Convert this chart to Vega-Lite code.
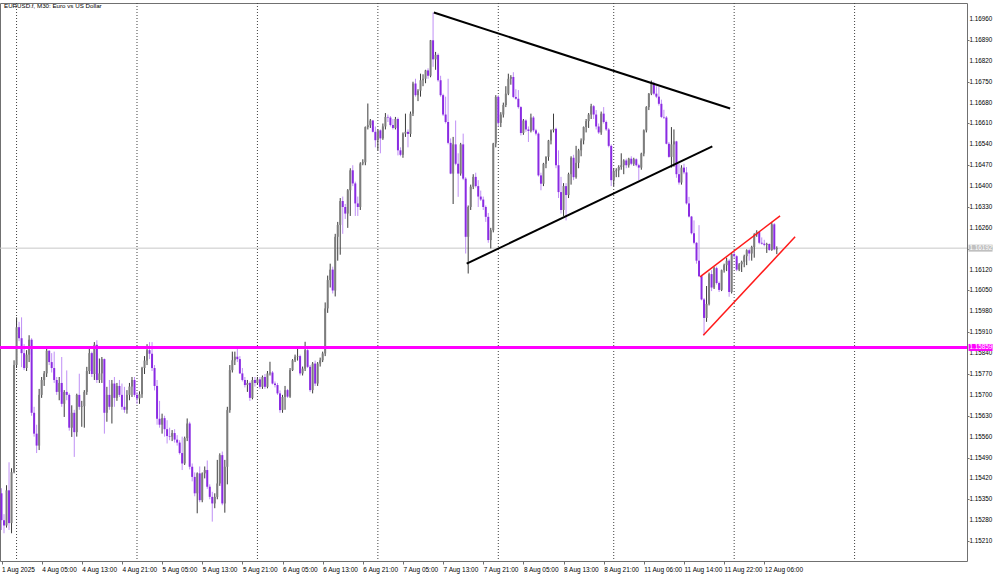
{
  "$schema": "https://vega.github.io/schema/vega-lite/v6.json",
  "width": 967,
  "height": 558,
  "autosize": {"type": "none"},
  "padding": {"left": 0, "top": 3, "right": 33, "bottom": 13},
  "background": "white",
  "config": {
    "view": {"stroke": "#707070", "strokeWidth": 1},
    "font": "Liberation Sans",
    "axis": {"labelOverlap": false},
    "scale": {"continuousPadding": 0}
  },
  "title": {
    "text": "EURUSD.f, M30:  Euro vs US Dollar",
    "anchor": "start",
    "orient": "top",
    "frame": "group",
    "offset": -13,
    "dx": 4,
    "baseline": "bottom",
    "fontSize": 6.2,
    "fontWeight": "normal",
    "font": "Liberation Sans",
    "color": "black"
  },
  "datasets": {
    "grid": [{"i": 6}, {"i": 54}, {"i": 102}, {"i": 150}, {"i": 198}, {"i": 244}, {"i": 292}, {"i": 340}],
    "yticks": [
      {"p": 1.1521}, {"p": 1.1528}, {"p": 1.1535}, {"p": 1.1542}, {"p": 1.1549}, {"p": 1.1556}, {"p": 1.1563},
      {"p": 1.157}, {"p": 1.1577}, {"p": 1.1584}, {"p": 1.1591}, {"p": 1.1598}, {"p": 1.1605}, {"p": 1.1612},
      {"p": 1.1619}, {"p": 1.1626}, {"p": 1.1633}, {"p": 1.164}, {"p": 1.1647}, {"p": 1.1654}, {"p": 1.1661},
      {"p": 1.1668}, {"p": 1.1675}, {"p": 1.1682}, {"p": 1.1689}, {"p": 1.1696}
    ],
    "levels": [
      {"kind": "cur", "p": 1.16192, "label": "1.16192"},
      {"kind": "lvl", "p": 1.15859, "label": "1.15859"}
    ],
    "tri": [
      {"id": "top", "i": 172.3, "p": 1.16982},
      {"id": "top", "i": 290.4, "p": 1.1666},
      {"id": "bot", "i": 185.4, "p": 1.1614},
      {"id": "bot", "i": 283.3, "p": 1.16533}
    ],
    "chan": [
      {"id": "top", "i": 278.4, "p": 1.16096},
      {"id": "top", "i": 310.3, "p": 1.163},
      {"id": "bot", "i": 279.7, "p": 1.159},
      {"id": "bot", "i": 316.3, "p": 1.1623}
    ],
    "bars": [
      {"i":0,"o":1.15370,"h":1.15387,"l":1.15247,"c":1.15280},
      {"i":1,"o":1.15280,"h":1.15300,"l":1.15236,"c":1.15262},
      {"i":2,"o":1.15262,"h":1.15397,"l":1.15255,"c":1.15380},
      {"i":3,"o":1.15380,"h":1.15474,"l":1.15247,"c":1.15270},
      {"i":4,"o":1.15270,"h":1.15454,"l":1.15236,"c":1.15441},
      {"i":5,"o":1.15441,"h":1.15816,"l":1.15437,"c":1.15800},
      {"i":6,"o":1.15800,"h":1.15960,"l":1.15790,"c":1.15927},
      {"i":7,"o":1.15927,"h":1.15945,"l":1.15880,"c":1.15890},
      {"i":8,"o":1.15890,"h":1.15960,"l":1.15793,"c":1.15840},
      {"i":9,"o":1.15840,"h":1.15870,"l":1.15783,"c":1.15790},
      {"i":10,"o":1.15790,"h":1.15850,"l":1.15780,"c":1.15835},
      {"i":11,"o":1.15835,"h":1.15900,"l":1.15810,"c":1.15885},
      {"i":12,"o":1.15885,"h":1.15890,"l":1.15630,"c":1.15640},
      {"i":13,"o":1.15640,"h":1.15660,"l":1.15560,"c":1.15570},
      {"i":14,"o":1.15570,"h":1.15600,"l":1.15505,"c":1.15530},
      {"i":15,"o":1.15530,"h":1.15720,"l":1.15515,"c":1.15700},
      {"i":16,"o":1.15700,"h":1.15760,"l":1.15690,"c":1.15750},
      {"i":17,"o":1.15750,"h":1.15780,"l":1.15730,"c":1.15772},
      {"i":18,"o":1.15772,"h":1.15855,"l":1.15760,"c":1.15848},
      {"i":19,"o":1.15848,"h":1.15850,"l":1.15800,"c":1.15810},
      {"i":20,"o":1.15810,"h":1.15840,"l":1.15775,"c":1.15790},
      {"i":21,"o":1.15790,"h":1.15845,"l":1.15740,"c":1.15750},
      {"i":22,"o":1.15750,"h":1.15760,"l":1.15700,"c":1.15710},
      {"i":23,"o":1.15710,"h":1.15760,"l":1.15682,"c":1.15740},
      {"i":24,"o":1.15740,"h":1.15827,"l":1.15660,"c":1.15670},
      {"i":25,"o":1.15670,"h":1.15716,"l":1.15626,"c":1.15710},
      {"i":26,"o":1.15710,"h":1.15782,"l":1.15682,"c":1.15700},
      {"i":27,"o":1.15700,"h":1.15705,"l":1.15580,"c":1.15590},
      {"i":28,"o":1.15590,"h":1.15665,"l":1.15559,"c":1.15640},
      {"i":29,"o":1.15640,"h":1.15650,"l":1.15492,"c":1.15575},
      {"i":30,"o":1.15575,"h":1.15704,"l":1.15560,"c":1.15700},
      {"i":31,"o":1.15700,"h":1.15771,"l":1.15650,"c":1.15660},
      {"i":32,"o":1.15660,"h":1.15680,"l":1.15593,"c":1.15662},
      {"i":33,"o":1.15662,"h":1.15716,"l":1.15590,"c":1.15710},
      {"i":34,"o":1.15710,"h":1.15794,"l":1.15700,"c":1.15780},
      {"i":35,"o":1.15780,"h":1.15855,"l":1.15770,"c":1.15840},
      {"i":36,"o":1.15840,"h":1.15845,"l":1.15760,"c":1.15770},
      {"i":37,"o":1.15770,"h":1.15877,"l":1.15750,"c":1.15868},
      {"i":38,"o":1.15868,"h":1.15883,"l":1.15740,"c":1.15750},
      {"i":39,"o":1.15750,"h":1.15822,"l":1.15740,"c":1.15772},
      {"i":40,"o":1.15772,"h":1.15827,"l":1.15740,"c":1.15820},
      {"i":41,"o":1.15820,"h":1.15822,"l":1.15570,"c":1.15640},
      {"i":42,"o":1.15640,"h":1.15727,"l":1.15610,"c":1.15700},
      {"i":43,"o":1.15700,"h":1.15750,"l":1.15650,"c":1.15660},
      {"i":44,"o":1.15660,"h":1.15750,"l":1.15604,"c":1.15738},
      {"i":45,"o":1.15738,"h":1.15760,"l":1.15660,"c":1.15690},
      {"i":46,"o":1.15690,"h":1.15740,"l":1.15680,"c":1.15730},
      {"i":47,"o":1.15730,"h":1.15750,"l":1.15693,"c":1.15700},
      {"i":48,"o":1.15700,"h":1.15738,"l":1.15650,"c":1.15660},
      {"i":49,"o":1.15660,"h":1.15727,"l":1.15640,"c":1.15650},
      {"i":50,"o":1.15650,"h":1.15716,"l":1.15637,"c":1.15700},
      {"i":51,"o":1.15700,"h":1.15740,"l":1.15682,"c":1.15728},
      {"i":52,"o":1.15728,"h":1.15760,"l":1.15693,"c":1.15750},
      {"i":53,"o":1.15750,"h":1.15760,"l":1.15693,"c":1.15700},
      {"i":54,"o":1.15700,"h":1.15710,"l":1.15670,"c":1.15688},
      {"i":55,"o":1.15688,"h":1.15712,"l":1.15670,"c":1.15702},
      {"i":56,"o":1.15702,"h":1.15794,"l":1.15690,"c":1.15790},
      {"i":57,"o":1.15790,"h":1.15830,"l":1.15770,"c":1.15815},
      {"i":58,"o":1.15815,"h":1.15870,"l":1.15800,"c":1.15850},
      {"i":59,"o":1.15850,"h":1.15877,"l":1.15820,"c":1.15838},
      {"i":60,"o":1.15838,"h":1.15877,"l":1.15780,"c":1.15790},
      {"i":61,"o":1.15790,"h":1.15800,"l":1.15715,"c":1.15730},
      {"i":62,"o":1.15730,"h":1.15750,"l":1.15600,"c":1.15620},
      {"i":63,"o":1.15620,"h":1.15680,"l":1.15590,"c":1.15600},
      {"i":64,"o":1.15600,"h":1.15637,"l":1.15570,"c":1.15622},
      {"i":65,"o":1.15622,"h":1.15630,"l":1.15560,"c":1.15585},
      {"i":66,"o":1.15585,"h":1.15615,"l":1.15537,"c":1.15562},
      {"i":67,"o":1.15562,"h":1.15590,"l":1.15548,"c":1.15560},
      {"i":68,"o":1.15560,"h":1.15582,"l":1.15545,"c":1.15572},
      {"i":69,"o":1.15572,"h":1.15585,"l":1.15540,"c":1.15550},
      {"i":70,"o":1.15550,"h":1.15565,"l":1.15530,"c":1.15540},
      {"i":71,"o":1.15540,"h":1.15548,"l":1.15500,"c":1.15505},
      {"i":72,"o":1.15505,"h":1.15560,"l":1.15448,"c":1.15470},
      {"i":73,"o":1.15470,"h":1.15560,"l":1.15465,"c":1.15555},
      {"i":74,"o":1.15555,"h":1.15621,"l":1.15545,"c":1.15604},
      {"i":75,"o":1.15604,"h":1.15610,"l":1.15450,"c":1.15459},
      {"i":76,"o":1.15459,"h":1.15470,"l":1.15410,"c":1.15425},
      {"i":77,"o":1.15425,"h":1.15440,"l":1.15360,"c":1.15370},
      {"i":78,"o":1.15370,"h":1.15440,"l":1.15303,"c":1.15437},
      {"i":79,"o":1.15437,"h":1.15460,"l":1.15340,"c":1.15347},
      {"i":80,"o":1.15347,"h":1.15440,"l":1.15340,"c":1.15437},
      {"i":81,"o":1.15437,"h":1.15460,"l":1.15420,"c":1.15448},
      {"i":82,"o":1.15448,"h":1.15480,"l":1.15385,"c":1.15392},
      {"i":83,"o":1.15392,"h":1.15400,"l":1.15350,"c":1.15358},
      {"i":84,"o":1.15358,"h":1.15375,"l":1.15275,"c":1.15336},
      {"i":85,"o":1.15336,"h":1.15370,"l":1.15320,"c":1.15358},
      {"i":86,"o":1.15358,"h":1.15482,"l":1.15350,"c":1.15403},
      {"i":87,"o":1.15403,"h":1.15504,"l":1.15395,"c":1.15498},
      {"i":88,"o":1.15498,"h":1.15510,"l":1.15330,"c":1.15336},
      {"i":89,"o":1.15336,"h":1.15482,"l":1.15305,"c":1.15459},
      {"i":90,"o":1.15459,"h":1.15660,"l":1.15400,"c":1.15649},
      {"i":91,"o":1.15649,"h":1.15800,"l":1.15640,"c":1.15783},
      {"i":92,"o":1.15783,"h":1.15845,"l":1.15775,"c":1.15816},
      {"i":93,"o":1.15816,"h":1.15845,"l":1.15800,"c":1.15828},
      {"i":94,"o":1.15828,"h":1.15856,"l":1.15810,"c":1.15820},
      {"i":95,"o":1.15820,"h":1.15830,"l":1.15770,"c":1.15772},
      {"i":96,"o":1.15772,"h":1.15790,"l":1.15745,"c":1.15750},
      {"i":97,"o":1.15750,"h":1.15760,"l":1.15725,"c":1.15733},
      {"i":98,"o":1.15733,"h":1.15750,"l":1.15710,"c":1.15740},
      {"i":99,"o":1.15740,"h":1.15745,"l":1.15680,"c":1.15690},
      {"i":100,"o":1.15690,"h":1.15760,"l":1.15685,"c":1.15750},
      {"i":101,"o":1.15750,"h":1.15760,"l":1.15728,"c":1.15740},
      {"i":102,"o":1.15740,"h":1.15760,"l":1.15735,"c":1.15752},
      {"i":103,"o":1.15752,"h":1.15760,"l":1.15720,"c":1.15727},
      {"i":104,"o":1.15727,"h":1.15765,"l":1.15720,"c":1.15760},
      {"i":105,"o":1.15760,"h":1.15770,"l":1.15720,"c":1.15727},
      {"i":106,"o":1.15727,"h":1.15780,"l":1.15722,"c":1.15772},
      {"i":107,"o":1.15772,"h":1.15811,"l":1.15765,"c":1.15775},
      {"i":108,"o":1.15775,"h":1.15780,"l":1.15735,"c":1.15738},
      {"i":109,"o":1.15738,"h":1.15745,"l":1.15725,"c":1.15733},
      {"i":110,"o":1.15733,"h":1.15740,"l":1.15700,"c":1.15705},
      {"i":111,"o":1.15705,"h":1.15715,"l":1.15640,"c":1.15649},
      {"i":112,"o":1.15649,"h":1.15700,"l":1.15640,"c":1.15693},
      {"i":113,"o":1.15693,"h":1.15730,"l":1.15650,"c":1.15716},
      {"i":114,"o":1.15716,"h":1.15720,"l":1.15690,"c":1.15694},
      {"i":115,"o":1.15694,"h":1.15790,"l":1.15690,"c":1.15783},
      {"i":116,"o":1.15783,"h":1.15820,"l":1.15780,"c":1.15816},
      {"i":117,"o":1.15816,"h":1.15835,"l":1.15810,"c":1.15828},
      {"i":118,"o":1.15828,"h":1.15856,"l":1.15815,"c":1.15830},
      {"i":119,"o":1.15830,"h":1.15835,"l":1.15765,"c":1.15772},
      {"i":120,"o":1.15772,"h":1.15795,"l":1.15765,"c":1.15788},
      {"i":121,"o":1.15788,"h":1.15878,"l":1.15780,"c":1.15850},
      {"i":122,"o":1.15850,"h":1.15860,"l":1.15790,"c":1.15794},
      {"i":123,"o":1.15794,"h":1.15800,"l":1.15710,"c":1.15716},
      {"i":124,"o":1.15716,"h":1.15810,"l":1.15705,"c":1.15805},
      {"i":125,"o":1.15805,"h":1.15815,"l":1.15730,"c":1.15738},
      {"i":126,"o":1.15738,"h":1.15810,"l":1.15730,"c":1.15805},
      {"i":127,"o":1.15805,"h":1.15825,"l":1.15795,"c":1.15816},
      {"i":128,"o":1.15816,"h":1.15845,"l":1.15810,"c":1.15839},
      {"i":129,"o":1.15839,"h":1.16010,"l":1.15830,"c":1.15990},
      {"i":130,"o":1.15990,"h":1.16100,"l":1.15975,"c":1.16085},
      {"i":131,"o":1.16085,"h":1.16140,"l":1.16060,"c":1.16120},
      {"i":132,"o":1.16120,"h":1.16130,"l":1.16040,"c":1.16050},
      {"i":133,"o":1.16050,"h":1.16240,"l":1.16030,"c":1.16230},
      {"i":134,"o":1.16230,"h":1.16280,"l":1.16150,"c":1.16270},
      {"i":135,"o":1.16270,"h":1.16360,"l":1.16170,"c":1.16350},
      {"i":136,"o":1.16350,"h":1.16365,"l":1.16240,"c":1.16330},
      {"i":137,"o":1.16330,"h":1.16340,"l":1.16290,"c":1.16308},
      {"i":138,"o":1.16308,"h":1.16390,"l":1.16260,"c":1.16386},
      {"i":139,"o":1.16386,"h":1.16460,"l":1.16300,"c":1.16453},
      {"i":140,"o":1.16453,"h":1.16470,"l":1.16400,"c":1.16409},
      {"i":141,"o":1.16409,"h":1.16415,"l":1.16300,"c":1.16342},
      {"i":142,"o":1.16342,"h":1.16365,"l":1.16300,"c":1.16330},
      {"i":143,"o":1.16330,"h":1.16480,"l":1.16320,"c":1.16476},
      {"i":144,"o":1.16476,"h":1.16490,"l":1.16470,"c":1.16480},
      {"i":145,"o":1.16480,"h":1.16600,"l":1.16470,"c":1.16598},
      {"i":146,"o":1.16598,"h":1.16677,"l":1.16590,"c":1.16604},
      {"i":147,"o":1.16604,"h":1.16625,"l":1.16595,"c":1.16620},
      {"i":148,"o":1.16620,"h":1.16622,"l":1.16580,"c":1.16582},
      {"i":149,"o":1.16582,"h":1.16600,"l":1.16530,"c":1.16554},
      {"i":150,"o":1.16554,"h":1.16590,"l":1.16520,"c":1.16587},
      {"i":151,"o":1.16587,"h":1.16590,"l":1.16510,"c":1.16560},
      {"i":152,"o":1.16560,"h":1.16610,"l":1.16555,"c":1.16600},
      {"i":153,"o":1.16600,"h":1.16645,"l":1.16590,"c":1.16632},
      {"i":154,"o":1.16632,"h":1.16640,"l":1.16615,"c":1.16630},
      {"i":155,"o":1.16630,"h":1.16635,"l":1.16600,"c":1.16605},
      {"i":156,"o":1.16605,"h":1.16625,"l":1.16590,"c":1.16595},
      {"i":157,"o":1.16595,"h":1.16632,"l":1.16590,"c":1.16625},
      {"i":158,"o":1.16625,"h":1.16630,"l":1.16503,"c":1.16520},
      {"i":159,"o":1.16520,"h":1.16530,"l":1.16500,"c":1.16505},
      {"i":160,"o":1.16505,"h":1.16580,"l":1.16495,"c":1.16576},
      {"i":161,"o":1.16576,"h":1.16643,"l":1.16565,"c":1.16582},
      {"i":162,"o":1.16582,"h":1.16590,"l":1.16530,"c":1.16575},
      {"i":163,"o":1.16575,"h":1.16650,"l":1.16565,"c":1.16643},
      {"i":164,"o":1.16643,"h":1.16750,"l":1.16635,"c":1.16744},
      {"i":165,"o":1.16744,"h":1.16760,"l":1.16700,"c":1.16705},
      {"i":166,"o":1.16705,"h":1.16725,"l":1.16685,"c":1.16720},
      {"i":167,"o":1.16720,"h":1.16777,"l":1.16700,"c":1.16755},
      {"i":168,"o":1.16755,"h":1.16775,"l":1.16735,"c":1.16760},
      {"i":169,"o":1.16760,"h":1.16790,"l":1.16745,"c":1.16788},
      {"i":170,"o":1.16788,"h":1.16795,"l":1.16760,"c":1.16770},
      {"i":171,"o":1.16770,"h":1.16890,"l":1.16765,"c":1.16889},
      {"i":172,"o":1.16889,"h":1.16982,"l":1.16800,"c":1.16825},
      {"i":173,"o":1.16825,"h":1.16850,"l":1.16790,"c":1.16840},
      {"i":174,"o":1.16840,"h":1.16845,"l":1.16750,"c":1.16755},
      {"i":175,"o":1.16755,"h":1.16770,"l":1.16700,"c":1.16705},
      {"i":176,"o":1.16705,"h":1.16710,"l":1.16635,"c":1.16640},
      {"i":177,"o":1.16640,"h":1.16700,"l":1.16610,"c":1.16615},
      {"i":178,"o":1.16615,"h":1.16760,"l":1.16540,"c":1.16545},
      {"i":179,"o":1.16545,"h":1.16560,"l":1.16440,"c":1.16442},
      {"i":180,"o":1.16442,"h":1.16565,"l":1.16340,"c":1.16540},
      {"i":181,"o":1.16540,"h":1.16620,"l":1.16470,"c":1.16475},
      {"i":182,"o":1.16475,"h":1.16510,"l":1.16364,"c":1.16442},
      {"i":183,"o":1.16442,"h":1.16545,"l":1.16435,"c":1.16540},
      {"i":184,"o":1.16540,"h":1.16576,"l":1.16420,"c":1.16425},
      {"i":185,"o":1.16425,"h":1.16430,"l":1.16174,"c":1.16230},
      {"i":186,"o":1.16230,"h":1.16335,"l":1.16107,"c":1.16330},
      {"i":187,"o":1.16330,"h":1.16405,"l":1.16320,"c":1.16398},
      {"i":188,"o":1.16398,"h":1.16440,"l":1.16390,"c":1.16431},
      {"i":189,"o":1.16431,"h":1.16445,"l":1.16395,"c":1.16400},
      {"i":190,"o":1.16400,"h":1.16420,"l":1.16330,"c":1.16365},
      {"i":191,"o":1.16365,"h":1.16385,"l":1.16350,"c":1.16355},
      {"i":192,"o":1.16355,"h":1.16365,"l":1.16320,"c":1.16330},
      {"i":193,"o":1.16330,"h":1.16335,"l":1.16280,"c":1.16297},
      {"i":194,"o":1.16297,"h":1.16310,"l":1.16210,"c":1.16219},
      {"i":195,"o":1.16219,"h":1.16260,"l":1.16191,"c":1.16252},
      {"i":196,"o":1.16252,"h":1.16545,"l":1.16245,"c":1.16543},
      {"i":197,"o":1.16543,"h":1.16705,"l":1.16530,"c":1.16699},
      {"i":198,"o":1.16699,"h":1.16705,"l":1.16600,"c":1.16612},
      {"i":199,"o":1.16612,"h":1.16648,"l":1.16598,"c":1.16640},
      {"i":200,"o":1.16640,"h":1.16680,"l":1.16630,"c":1.16672},
      {"i":201,"o":1.16672,"h":1.16735,"l":1.16665,"c":1.16710},
      {"i":202,"o":1.16710,"h":1.16777,"l":1.16705,"c":1.16760},
      {"i":203,"o":1.16760,"h":1.16772,"l":1.16740,"c":1.16766},
      {"i":204,"o":1.16766,"h":1.16782,"l":1.16695,"c":1.16699},
      {"i":205,"o":1.16699,"h":1.16725,"l":1.16690,"c":1.16693},
      {"i":206,"o":1.16693,"h":1.16722,"l":1.16660,"c":1.16665},
      {"i":207,"o":1.16665,"h":1.16668,"l":1.16570,"c":1.16578},
      {"i":208,"o":1.16578,"h":1.16625,"l":1.16572,"c":1.16620},
      {"i":209,"o":1.16620,"h":1.16624,"l":1.16582,"c":1.16590},
      {"i":210,"o":1.16590,"h":1.16600,"l":1.16548,"c":1.16585},
      {"i":211,"o":1.16585,"h":1.16643,"l":1.16580,"c":1.16630},
      {"i":212,"o":1.16630,"h":1.16635,"l":1.16582,"c":1.16587},
      {"i":213,"o":1.16587,"h":1.16592,"l":1.16570,"c":1.16576},
      {"i":214,"o":1.16576,"h":1.16580,"l":1.16432,"c":1.16436},
      {"i":215,"o":1.16436,"h":1.16445,"l":1.16386,"c":1.16408},
      {"i":216,"o":1.16408,"h":1.16478,"l":1.16400,"c":1.16475},
      {"i":217,"o":1.16475,"h":1.16500,"l":1.16460,"c":1.16498},
      {"i":218,"o":1.16498,"h":1.16555,"l":1.16485,"c":1.16553},
      {"i":219,"o":1.16553,"h":1.16590,"l":1.16540,"c":1.16587},
      {"i":220,"o":1.16587,"h":1.16643,"l":1.16580,"c":1.16592},
      {"i":221,"o":1.16592,"h":1.16596,"l":1.16460,"c":1.16470},
      {"i":222,"o":1.16470,"h":1.16520,"l":1.16360,"c":1.16380},
      {"i":223,"o":1.16380,"h":1.16431,"l":1.16308,"c":1.16320},
      {"i":224,"o":1.16320,"h":1.16410,"l":1.16300,"c":1.16400},
      {"i":225,"o":1.16400,"h":1.16410,"l":1.16285,"c":1.16370},
      {"i":226,"o":1.16370,"h":1.16445,"l":1.16360,"c":1.16440},
      {"i":227,"o":1.16440,"h":1.16500,"l":1.16405,"c":1.16495},
      {"i":228,"o":1.16495,"h":1.16505,"l":1.16420,"c":1.16430},
      {"i":229,"o":1.16430,"h":1.16535,"l":1.16425,"c":1.16478},
      {"i":230,"o":1.16478,"h":1.16525,"l":1.16460,"c":1.16520},
      {"i":231,"o":1.16520,"h":1.16560,"l":1.16500,"c":1.16553},
      {"i":232,"o":1.16553,"h":1.16600,"l":1.16540,"c":1.16598},
      {"i":233,"o":1.16598,"h":1.16625,"l":1.16580,"c":1.16618},
      {"i":234,"o":1.16618,"h":1.16645,"l":1.16595,"c":1.16640},
      {"i":235,"o":1.16640,"h":1.16676,"l":1.16625,"c":1.16668},
      {"i":236,"o":1.16668,"h":1.16672,"l":1.16625,"c":1.16640},
      {"i":237,"o":1.16640,"h":1.16655,"l":1.16590,"c":1.16600},
      {"i":238,"o":1.16600,"h":1.16610,"l":1.16575,"c":1.16580},
      {"i":239,"o":1.16580,"h":1.16650,"l":1.16572,"c":1.16643},
      {"i":240,"o":1.16643,"h":1.16665,"l":1.16610,"c":1.16615},
      {"i":241,"o":1.16615,"h":1.16620,"l":1.16585,"c":1.16590},
      {"i":242,"o":1.16590,"h":1.16595,"l":1.16530,"c":1.16535},
      {"i":243,"o":1.16535,"h":1.16540,"l":1.16400,"c":1.16420},
      {"i":244,"o":1.16420,"h":1.16460,"l":1.16400,"c":1.16450},
      {"i":245,"o":1.16450,"h":1.16460,"l":1.16430,"c":1.16453},
      {"i":246,"o":1.16453,"h":1.16470,"l":1.16430,"c":1.16464},
      {"i":247,"o":1.16464,"h":1.16510,"l":1.16455,"c":1.16470},
      {"i":248,"o":1.16470,"h":1.16490,"l":1.16440,"c":1.16486},
      {"i":249,"o":1.16486,"h":1.16492,"l":1.16460,"c":1.16470},
      {"i":250,"o":1.16470,"h":1.16495,"l":1.16462,"c":1.16492},
      {"i":251,"o":1.16492,"h":1.16500,"l":1.16470,"c":1.16475},
      {"i":252,"o":1.16475,"h":1.16495,"l":1.16468,"c":1.16490},
      {"i":253,"o":1.16490,"h":1.16493,"l":1.16466,"c":1.16470},
      {"i":254,"o":1.16470,"h":1.16475,"l":1.16420,"c":1.16462},
      {"i":255,"o":1.16462,"h":1.16512,"l":1.16455,"c":1.16509},
      {"i":256,"o":1.16509,"h":1.16590,"l":1.16500,"c":1.16587},
      {"i":257,"o":1.16587,"h":1.16668,"l":1.16580,"c":1.16665},
      {"i":258,"o":1.16665,"h":1.16712,"l":1.16655,"c":1.16710},
      {"i":259,"o":1.16710,"h":1.16754,"l":1.16705,"c":1.16745},
      {"i":260,"o":1.16745,"h":1.16750,"l":1.16705,"c":1.16710},
      {"i":261,"o":1.16710,"h":1.16735,"l":1.16695,"c":1.16700},
      {"i":262,"o":1.16700,"h":1.16732,"l":1.16670,"c":1.16676},
      {"i":263,"o":1.16676,"h":1.16690,"l":1.16628,"c":1.16632},
      {"i":264,"o":1.16632,"h":1.16656,"l":1.16625,"c":1.16630},
      {"i":265,"o":1.16630,"h":1.16635,"l":1.16540,"c":1.16542},
      {"i":266,"o":1.16542,"h":1.16548,"l":1.16495,"c":1.16498},
      {"i":267,"o":1.16498,"h":1.16598,"l":1.16462,"c":1.16540},
      {"i":268,"o":1.16540,"h":1.16590,"l":1.16465,"c":1.16550},
      {"i":269,"o":1.16550,"h":1.16552,"l":1.16428,"c":1.16440},
      {"i":270,"o":1.16440,"h":1.16475,"l":1.16405,"c":1.16412},
      {"i":271,"o":1.16412,"h":1.16470,"l":1.16405,"c":1.16462},
      {"i":272,"o":1.16462,"h":1.16475,"l":1.16440,"c":1.16446},
      {"i":273,"o":1.16446,"h":1.16464,"l":1.16338,"c":1.16342},
      {"i":274,"o":1.16342,"h":1.16364,"l":1.16295,"c":1.16298},
      {"i":275,"o":1.16298,"h":1.16300,"l":1.16238,"c":1.16242},
      {"i":276,"o":1.16242,"h":1.16285,"l":1.16205,"c":1.16210},
      {"i":277,"o":1.16210,"h":1.16212,"l":1.16140,"c":1.16150},
      {"i":278,"o":1.16150,"h":1.16269,"l":1.16095,"c":1.16098},
      {"i":279,"o":1.16098,"h":1.16100,"l":1.16017,"c":1.16020},
      {"i":280,"o":1.16020,"h":1.16025,"l":1.15900,"c":1.15958},
      {"i":281,"o":1.15958,"h":1.16065,"l":1.15945,"c":1.16005},
      {"i":282,"o":1.16005,"h":1.16110,"l":1.16000,"c":1.16105},
      {"i":283,"o":1.16105,"h":1.16118,"l":1.16048,"c":1.16060},
      {"i":284,"o":1.16060,"h":1.16129,"l":1.16055,"c":1.16125},
      {"i":285,"o":1.16125,"h":1.16130,"l":1.16070,"c":1.16075},
      {"i":286,"o":1.16075,"h":1.16080,"l":1.16045,"c":1.16052},
      {"i":287,"o":1.16052,"h":1.16120,"l":1.16048,"c":1.16118},
      {"i":288,"o":1.16118,"h":1.16140,"l":1.16110,"c":1.16135},
      {"i":289,"o":1.16135,"h":1.16160,"l":1.16115,"c":1.16150},
      {"i":290,"o":1.16150,"h":1.16155,"l":1.16029,"c":1.16045},
      {"i":291,"o":1.16045,"h":1.16178,"l":1.16040,"c":1.16172},
      {"i":292,"o":1.16172,"h":1.16182,"l":1.16158,"c":1.16165},
      {"i":293,"o":1.16165,"h":1.16168,"l":1.16115,"c":1.16120},
      {"i":294,"o":1.16120,"h":1.16142,"l":1.16115,"c":1.16138},
      {"i":295,"o":1.16138,"h":1.16150,"l":1.16112,"c":1.16146},
      {"i":296,"o":1.16146,"h":1.16170,"l":1.16128,"c":1.16165},
      {"i":297,"o":1.16165,"h":1.16188,"l":1.16135,"c":1.16185},
      {"i":298,"o":1.16185,"h":1.16190,"l":1.16150,"c":1.16174},
      {"i":299,"o":1.16174,"h":1.16200,"l":1.16150,"c":1.16196},
      {"i":300,"o":1.16196,"h":1.16242,"l":1.16160,"c":1.16238},
      {"i":301,"o":1.16238,"h":1.16252,"l":1.16230,"c":1.16246},
      {"i":302,"o":1.16246,"h":1.16248,"l":1.16205,"c":1.16210},
      {"i":303,"o":1.16210,"h":1.16228,"l":1.16204,"c":1.16207},
      {"i":304,"o":1.16207,"h":1.16220,"l":1.16198,"c":1.16203},
      {"i":305,"o":1.16203,"h":1.16210,"l":1.16176,"c":1.16206},
      {"i":306,"o":1.16206,"h":1.16208,"l":1.16183,"c":1.16186},
      {"i":307,"o":1.16186,"h":1.16280,"l":1.16183,"c":1.16272},
      {"i":308,"o":1.16272,"h":1.16276,"l":1.16185,"c":1.16188},
      {"i":309,"o":1.16188,"h":1.16198,"l":1.16172,"c":1.16192}
    ]
  },
  "layer": [
    {
      "data": {"name": "grid"},
      "mark": {"type": "rule", "color": "#404040", "strokeWidth": 1, "strokeDash": [1, 2]},
      "encoding": {
        "x": {
          "field": "i",
          "type": "quantitative",
          "scale": {"domain": [-0.6, 384.8], "nice": false, "zero": false, "padding": 0},
          "axis": {
            "title": null,
            "orient": "bottom",
            "grid": false,
            "domain": false,
            "values": [0, 16, 32, 48, 64, 80, 96, 112, 128, 144, 160, 176, 192, 208, 224, 240, 256, 272, 288, 304],
            "labelExpr": "['1 Aug 2025','4 Aug 05:00','4 Aug 13:00','4 Aug 21:00','5 Aug 05:00','5 Aug 13:00','5 Aug 21:00','6 Aug 05:00','6 Aug 13:00','6 Aug 21:00','7 Aug 05:00','7 Aug 13:00','7 Aug 21:00','8 Aug 05:00','8 Aug 13:00','8 Aug 21:00','11 Aug 06:00','11 Aug 14:00','11 Aug 22:00','12 Aug 06:00'][round(datum.value / 16)]",
            "labelAlign": "left",
            "labelBaseline": "top",
            "labelPadding": 2,
            "labelFontSize": 6.5,
            "labelFont": "Liberation Sans",
            "labelColor": "black",
            "labelOverlap": false,
            "labelBound": false,
            "labelFlush": false,
            "tickSize": 3,
            "tickColor": "#707070"
          }
        }
      }
    },
    {
      "data": {"name": "yticks"},
      "mark": {"type": "text", "align": "left", "baseline": "middle", "fontSize": 6.3, "font": "Liberation Sans", "color": "black"},
      "encoding": {
        "x": {"datum": 385.8, "type": "quantitative"},
        "y": {
          "field": "p",
          "type": "quantitative",
          "scale": {"domain": [1.15143, 1.17014], "nice": false, "zero": false, "padding": 0},
          "axis": {
            "title": null,
            "orient": "right",
            "grid": false,
            "domain": false,
            "labels": false,
            "values": [1.1521, 1.1528, 1.1535, 1.1542, 1.1549, 1.1556, 1.1563, 1.157, 1.1577, 1.1584, 1.1591, 1.1598, 1.1605, 1.1612, 1.1619, 1.1626, 1.1633, 1.164, 1.1647, 1.1654, 1.1661, 1.1668, 1.1675, 1.1682, 1.1689, 1.1696],
            "tickSize": 2,
            "tickColor": "#707070"
          }
        },
        "text": {"field": "p", "type": "quantitative", "format": ".5f"}
      }
    },
    {
      "data": {"name": "levels"},
      "transform": [{"filter": "datum.kind == 'cur'"}],
      "mark": {"type": "rule", "color": "#c8c8c8", "strokeWidth": 1},
      "encoding": {
        "y": {"field": "p", "type": "quantitative", "title": null}
      }
    },
    {
      "data": {"name": "bars"},
      "mark": {"type": "rule", "strokeWidth": 1},
      "encoding": {
        "x": {"field": "i", "type": "quantitative", "title": null},
        "y": {"field": "l", "type": "quantitative", "title": null},
        "y2": {"field": "h"},
        "color": {"condition": {"test": "datum.c >= datum.o", "value": "#3c3c3c"}, "value": "#bf8ff5"}
      }
    },
    {
      "data": {"name": "bars"},
      "mark": {"type": "bar", "width": 2},
      "encoding": {
        "x": {"field": "i", "type": "quantitative", "title": null},
        "y": {"field": "o", "type": "quantitative", "title": null},
        "y2": {"field": "c"},
        "color": {"condition": {"test": "datum.c >= datum.o", "value": "#7d7d7d"}, "value": "#8a2be2"}
      }
    },
    {
      "data": {"name": "levels"},
      "transform": [{"filter": "datum.kind == 'lvl'"}],
      "mark": {"type": "rule", "color": "#ff00ff", "strokeWidth": 3},
      "encoding": {
        "y": {"field": "p", "type": "quantitative", "title": null}
      }
    },
    {
      "data": {"name": "tri"},
      "mark": {"type": "line", "color": "black", "strokeWidth": 2},
      "encoding": {
        "x": {"field": "i", "type": "quantitative", "title": null},
        "y": {"field": "p", "type": "quantitative", "title": null},
        "detail": {"field": "id"}
      }
    },
    {
      "data": {"name": "chan"},
      "mark": {"type": "line", "color": "#ff1a1a", "strokeWidth": 1.5},
      "encoding": {
        "x": {"field": "i", "type": "quantitative", "title": null},
        "y": {"field": "p", "type": "quantitative", "title": null},
        "detail": {"field": "id"}
      }
    },
    {
      "data": {"name": "levels"},
      "mark": {"type": "tick", "orient": "horizontal", "size": 24, "thickness": 7, "opacity": 1},
      "encoding": {
        "x": {"datum": 390.2, "type": "quantitative"},
        "y": {"field": "p", "type": "quantitative", "title": null},
        "color": {"field": "kind", "type": "nominal", "scale": {"domain": ["cur", "lvl"], "range": ["#c0c0c0", "#ff00ff"]}, "legend": null}
      }
    },
    {
      "data": {"name": "levels"},
      "mark": {"type": "text", "align": "left", "baseline": "middle", "fontSize": 6.3, "font": "Liberation Sans", "color": "white"},
      "encoding": {
        "x": {"datum": 385.8, "type": "quantitative"},
        "y": {"field": "p", "type": "quantitative", "title": null},
        "text": {"field": "label"}
      }
    }
  ]
}
